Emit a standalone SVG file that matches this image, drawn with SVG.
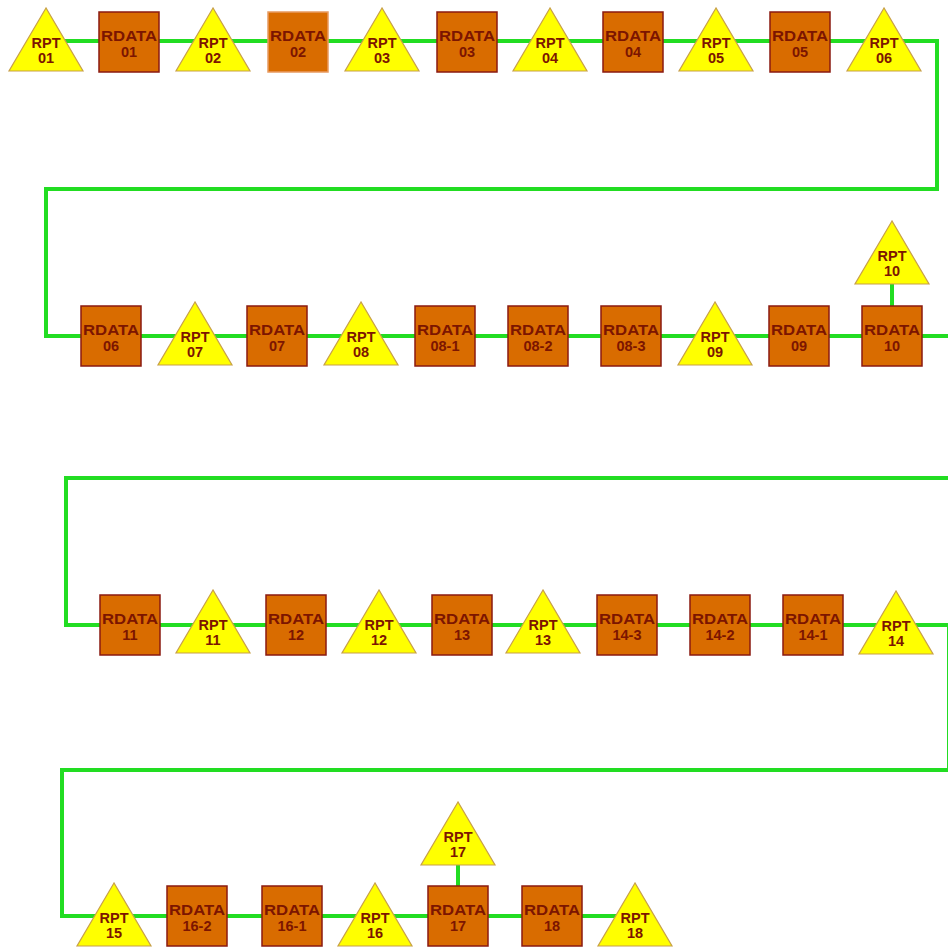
<svg xmlns="http://www.w3.org/2000/svg" xmlns:xlink="http://www.w3.org/1999/xlink" width="948" height="949" viewBox="0 0 948 949">
<style>
.bg{fill:#ffffff}
.wire{fill:none;stroke:#22dd22;stroke-width:4;stroke-linejoin:miter}
.tri{fill:#ffff00;stroke:#c8a048;stroke-width:1.2}
.box{fill:#d96c00;stroke:#8a1a10;stroke-width:1.5}
.box2{fill:#d96c00;stroke:#e89a60;stroke-width:1.5}
text{font-family:"Liberation Sans",Arial,sans-serif;font-weight:bold;font-size:14.5px;fill:#7c1500;text-anchor:middle}
</style>
<defs>
<polygon id="triShape" points="0,-33 -37,30 37,30"/>
<rect id="boxShape" x="-30" y="-30" width="60" height="60"/>
</defs>
<rect class="bg" x="0" y="0" width="948" height="949"/>
<g id="connectors">
<path class="wire" d="M46,41 H937 V189 H46 V336 H960 V478 H66 V625 H949 V770 H62 V916 H635"/>
<path class="wire" d="M892,284 V306"/>
<path class="wire" d="M458,865 V886"/>
</g>
<g id="RPT01" transform="translate(46,41)"><use class="tri" xlink:href="#triShape"/><text y="7">RPT<tspan x="0" dy="15">01</tspan></text></g>
<g id="RDATA01" transform="translate(129,42)"><use class="box" xlink:href="#boxShape"/><text y="-1"><tspan textLength="56" lengthAdjust="spacingAndGlyphs">RDATA</tspan><tspan x="0" dy="16">01</tspan></text></g>
<g id="RPT02" transform="translate(213,41)"><use class="tri" xlink:href="#triShape"/><text y="7">RPT<tspan x="0" dy="15">02</tspan></text></g>
<g id="RDATA02" transform="translate(298,42)"><use class="box2" xlink:href="#boxShape"/><text y="-1"><tspan textLength="56" lengthAdjust="spacingAndGlyphs">RDATA</tspan><tspan x="0" dy="16">02</tspan></text></g>
<g id="RPT03" transform="translate(382,41)"><use class="tri" xlink:href="#triShape"/><text y="7">RPT<tspan x="0" dy="15">03</tspan></text></g>
<g id="RDATA03" transform="translate(467,42)"><use class="box" xlink:href="#boxShape"/><text y="-1"><tspan textLength="56" lengthAdjust="spacingAndGlyphs">RDATA</tspan><tspan x="0" dy="16">03</tspan></text></g>
<g id="RPT04" transform="translate(550,41)"><use class="tri" xlink:href="#triShape"/><text y="7">RPT<tspan x="0" dy="15">04</tspan></text></g>
<g id="RDATA04" transform="translate(633,42)"><use class="box" xlink:href="#boxShape"/><text y="-1"><tspan textLength="56" lengthAdjust="spacingAndGlyphs">RDATA</tspan><tspan x="0" dy="16">04</tspan></text></g>
<g id="RPT05" transform="translate(716,41)"><use class="tri" xlink:href="#triShape"/><text y="7">RPT<tspan x="0" dy="15">05</tspan></text></g>
<g id="RDATA05" transform="translate(800,42)"><use class="box" xlink:href="#boxShape"/><text y="-1"><tspan textLength="56" lengthAdjust="spacingAndGlyphs">RDATA</tspan><tspan x="0" dy="16">05</tspan></text></g>
<g id="RPT06" transform="translate(884,41)"><use class="tri" xlink:href="#triShape"/><text y="7">RPT<tspan x="0" dy="15">06</tspan></text></g>

<g id="RDATA06" transform="translate(111,336)"><use class="box" xlink:href="#boxShape"/><text y="-1"><tspan textLength="56" lengthAdjust="spacingAndGlyphs">RDATA</tspan><tspan x="0" dy="16">06</tspan></text></g>
<g id="RPT07" transform="translate(195,335)"><use class="tri" xlink:href="#triShape"/><text y="7">RPT<tspan x="0" dy="15">07</tspan></text></g>
<g id="RDATA07" transform="translate(277,336)"><use class="box" xlink:href="#boxShape"/><text y="-1"><tspan textLength="56" lengthAdjust="spacingAndGlyphs">RDATA</tspan><tspan x="0" dy="16">07</tspan></text></g>
<g id="RPT08" transform="translate(361,335)"><use class="tri" xlink:href="#triShape"/><text y="7">RPT<tspan x="0" dy="15">08</tspan></text></g>
<g id="RDATA08-1" transform="translate(445,336)"><use class="box" xlink:href="#boxShape"/><text y="-1"><tspan textLength="56" lengthAdjust="spacingAndGlyphs">RDATA</tspan><tspan x="0" dy="16">08-1</tspan></text></g>
<g id="RDATA08-2" transform="translate(538,336)"><use class="box" xlink:href="#boxShape"/><text y="-1"><tspan textLength="56" lengthAdjust="spacingAndGlyphs">RDATA</tspan><tspan x="0" dy="16">08-2</tspan></text></g>
<g id="RDATA08-3" transform="translate(631,336)"><use class="box" xlink:href="#boxShape"/><text y="-1"><tspan textLength="56" lengthAdjust="spacingAndGlyphs">RDATA</tspan><tspan x="0" dy="16">08-3</tspan></text></g>
<g id="RPT09" transform="translate(715,335)"><use class="tri" xlink:href="#triShape"/><text y="7">RPT<tspan x="0" dy="15">09</tspan></text></g>
<g id="RDATA09" transform="translate(799,336)"><use class="box" xlink:href="#boxShape"/><text y="-1"><tspan textLength="56" lengthAdjust="spacingAndGlyphs">RDATA</tspan><tspan x="0" dy="16">09</tspan></text></g>
<g id="RDATA10" transform="translate(892,336)"><use class="box" xlink:href="#boxShape"/><text y="-1"><tspan textLength="56" lengthAdjust="spacingAndGlyphs">RDATA</tspan><tspan x="0" dy="16">10</tspan></text></g>
<g id="RPT10" transform="translate(892,254)"><use class="tri" xlink:href="#triShape"/><text y="7">RPT<tspan x="0" dy="15">10</tspan></text></g>

<g id="RDATA11" transform="translate(130,625)"><use class="box" xlink:href="#boxShape"/><text y="-1"><tspan textLength="56" lengthAdjust="spacingAndGlyphs">RDATA</tspan><tspan x="0" dy="16">11</tspan></text></g>
<g id="RPT11" transform="translate(213,623)"><use class="tri" xlink:href="#triShape"/><text y="7">RPT<tspan x="0" dy="15">11</tspan></text></g>
<g id="RDATA12" transform="translate(296,625)"><use class="box" xlink:href="#boxShape"/><text y="-1"><tspan textLength="56" lengthAdjust="spacingAndGlyphs">RDATA</tspan><tspan x="0" dy="16">12</tspan></text></g>
<g id="RPT12" transform="translate(379,623)"><use class="tri" xlink:href="#triShape"/><text y="7">RPT<tspan x="0" dy="15">12</tspan></text></g>
<g id="RDATA13" transform="translate(462,625)"><use class="box" xlink:href="#boxShape"/><text y="-1"><tspan textLength="56" lengthAdjust="spacingAndGlyphs">RDATA</tspan><tspan x="0" dy="16">13</tspan></text></g>
<g id="RPT13" transform="translate(543,623)"><use class="tri" xlink:href="#triShape"/><text y="7">RPT<tspan x="0" dy="15">13</tspan></text></g>
<g id="RDATA14-3" transform="translate(627,625)"><use class="box" xlink:href="#boxShape"/><text y="-1"><tspan textLength="56" lengthAdjust="spacingAndGlyphs">RDATA</tspan><tspan x="0" dy="16">14-3</tspan></text></g>
<g id="RDATA14-2" transform="translate(720,625)"><use class="box" xlink:href="#boxShape"/><text y="-1"><tspan textLength="56" lengthAdjust="spacingAndGlyphs">RDATA</tspan><tspan x="0" dy="16">14-2</tspan></text></g>
<g id="RDATA14-1" transform="translate(813,625)"><use class="box" xlink:href="#boxShape"/><text y="-1"><tspan textLength="56" lengthAdjust="spacingAndGlyphs">RDATA</tspan><tspan x="0" dy="16">14-1</tspan></text></g>
<g id="RPT14" transform="translate(896,624)"><use class="tri" xlink:href="#triShape"/><text y="7">RPT<tspan x="0" dy="15">14</tspan></text></g>

<g id="RPT15" transform="translate(114,916)"><use class="tri" xlink:href="#triShape"/><text y="7">RPT<tspan x="0" dy="15">15</tspan></text></g>
<g id="RDATA16-2" transform="translate(197,916)"><use class="box" xlink:href="#boxShape"/><text y="-1"><tspan textLength="56" lengthAdjust="spacingAndGlyphs">RDATA</tspan><tspan x="0" dy="16">16-2</tspan></text></g>
<g id="RDATA16-1" transform="translate(292,916)"><use class="box" xlink:href="#boxShape"/><text y="-1"><tspan textLength="56" lengthAdjust="spacingAndGlyphs">RDATA</tspan><tspan x="0" dy="16">16-1</tspan></text></g>
<g id="RPT16" transform="translate(375,916)"><use class="tri" xlink:href="#triShape"/><text y="7">RPT<tspan x="0" dy="15">16</tspan></text></g>
<g id="RDATA17" transform="translate(458,916)"><use class="box" xlink:href="#boxShape"/><text y="-1"><tspan textLength="56" lengthAdjust="spacingAndGlyphs">RDATA</tspan><tspan x="0" dy="16">17</tspan></text></g>
<g id="RPT17" transform="translate(458,835)"><use class="tri" xlink:href="#triShape"/><text y="7">RPT<tspan x="0" dy="15">17</tspan></text></g>
<g id="RDATA18" transform="translate(552,916)"><use class="box" xlink:href="#boxShape"/><text y="-1"><tspan textLength="56" lengthAdjust="spacingAndGlyphs">RDATA</tspan><tspan x="0" dy="16">18</tspan></text></g>
<g id="RPT18" transform="translate(635,916)"><use class="tri" xlink:href="#triShape"/><text y="7">RPT<tspan x="0" dy="15">18</tspan></text></g>
</svg>
